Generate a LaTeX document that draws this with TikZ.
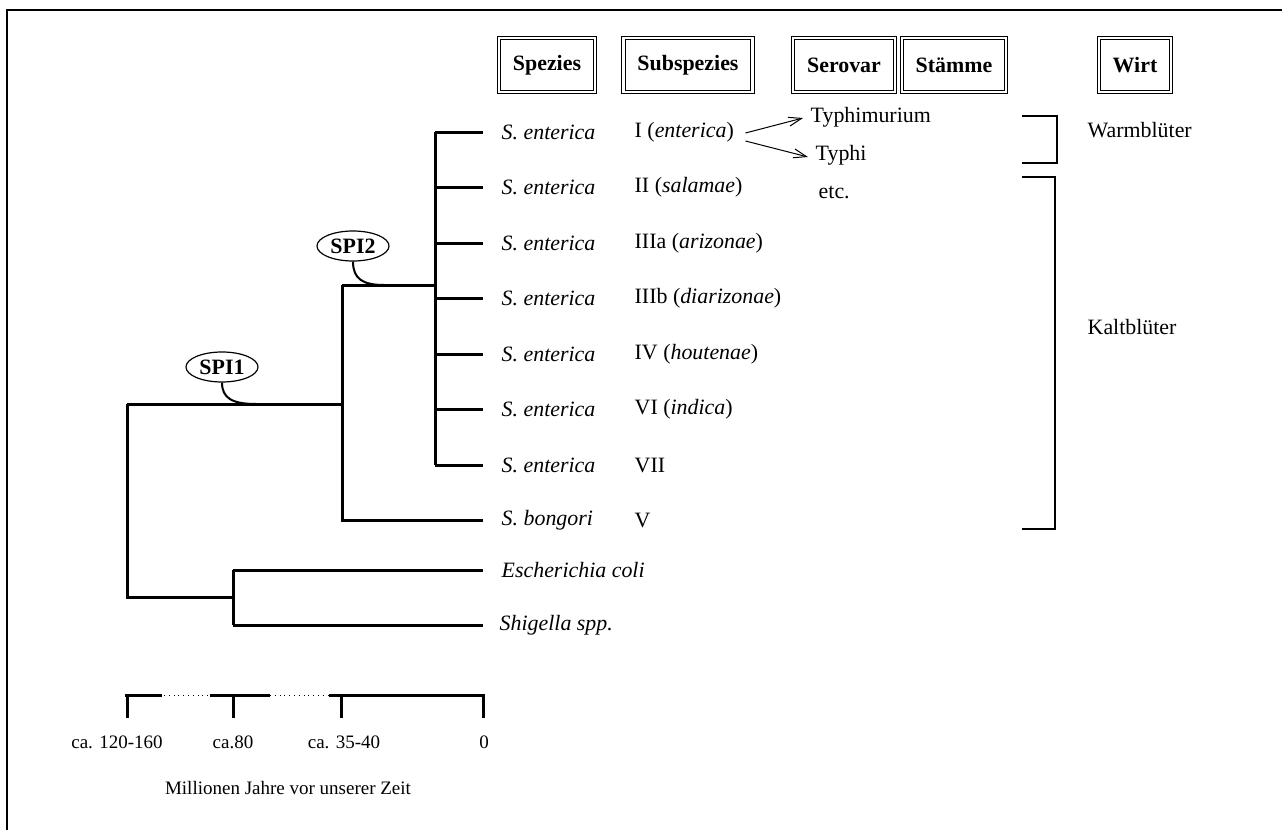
\documentclass[tikz,border=0pt,11pt]{standalone}
\usepackage{fontspec}
\setmainfont{Liberation Serif}
\usetikzlibrary{arrows.meta,positioning,shapes.geometric}
\begin{document}
\begin{tikzpicture}[x=0.5pt,y=-0.5pt,
  ast/.style={line width=1.5pt},
  kopf/.style={draw,double,double distance=1.1pt,line width=0.5pt,font=\bfseries,minimum height=27pt,inner xsep=7pt},
  art/.style={anchor=west,font=\itshape},
  unter/.style={anchor=west},
  spi/.style={draw,ellipse,line width=0.6pt,font=\bfseries,minimum width=36pt,minimum height=15pt,inner sep=0pt},
  pfeil/.style={line width=0.5pt,-{Straight Barb[length=6.5pt,width=4.5pt]}},
  klammer/.style={line width=1.2pt},
  skala/.style={font=\fontsize{9.5}{11}\selectfont}]
\useasboundingbox (0,0) rectangle (1282,830);
% Rahmen
\draw[line width=1pt] (7,830) -- (7,10) -- (1282,10);

% Kopfzeile
\node[kopf] (spezies) at (547,65) {Spezies};
\node[kopf] (subspezies) at (688,65) {Subspezies};
\node[kopf] (serovar) at (844,65) {Serovar};
\node[kopf] (staemme) at (954,65) {Stämme};
\node[kopf] (wirt) at (1135,65) {Wirt};

% Verzweigungspunkte
\coordinate (w) at (127,404);
\coordinate (wu) at (127,597);
\coordinate (a) at (342,404);
\coordinate (at) at (342,285);
\coordinate (ab) at (342,520);
\coordinate (b) at (435,285);
\coordinate (bt) at (435,132);
\coordinate (bb) at (435,465);
\coordinate (e) at (233,597);
\coordinate (et) at (233,570);
\coordinate (eb) at (233,625);

% S. enterica
\foreach \y/\sub [count=\i] in {132/I (\textit{enterica}), 187/II (\textit{salamae}),
  243/IIIa (\textit{arizonae}), 298/IIIb (\textit{diarizonae}), 354/IV (\textit{houtenae}),
  409/VI (\textit{indica}), 465/VII}{
  \coordinate (s\i) at (483,\y);
  \draw[ast] (b |- s\i) -- (s\i);
  \node[art] (sp\i) at (494,\y) {S. enterica};
  \node[unter] (ss\i) at (627,\y) {\sub};
}
\coordinate (s8) at (483,520);
\node[art] (sp8) at (494,520) {S. bongori};
\node[unter] (ss8) at (627,520) {V};
\coordinate (s9) at (483,570);
\node[art] (coli) at (494,570) {Escherichia coli};
\coordinate (s10) at (483,625);
\node[art] (shig) at (492,625) {Shigella spp.};

% Stammbaum
\draw[ast] (bt) -- (bb);
\draw[ast] (at) -- (b);
\draw[ast] (at) -- (ab) -- (s8);
\draw[ast] (w) -- (a);
\draw[ast] (w) -- (wu) -- (e);
\draw[ast] (et) -- (eb);
\draw[ast] (et) -- (s9);
\draw[ast] (eb) -- (s10);

% Pathogenitaetsinseln
\node[spi] (spi1) at (222,367) {SPI1};
\node[spi] (spi2) at (353,246) {SPI2};
\draw[line width=1pt] (spi1.south) .. controls (222,398) and (232,404) .. (256,404);
\draw[line width=1pt] (spi2.south) .. controls (353,279) and (363,285) .. (384,285);

% Serovare
\node[unter] (typm) at (803,117) {Typhimurium};
\node[unter] (typ) at (808,155) {Typhi};
\node[unter] (etc) at (811,192) {etc.};
\draw[pfeil] ([shift={(4,1)}]ss1.east) -- ([shift={(0,1)}]typm.west);
\draw[pfeil] ([shift={(4,9)}]ss1.east) -- ([shift={(0,2)}]typ.west);

% Wirt
\draw[klammer] (1022,116) -- (1057,116) -- (1057,163) -- (1022,163);
\draw[klammer] (1022,177) -- (1055,177) -- (1055,529) -- (1022,529);
\node[unter] (warm) at (1080,130) {Warmblüter};
\node[unter] (kalt) at (1080,327) {Kaltblüter};

% Zeitskala
\coordinate (t1) at (127,695);
\coordinate (t2) at (233,695);
\coordinate (t3) at (341,695);
\coordinate (t4) at (483,695);
\foreach \t in {t1,t2,t3,t4}
  \draw[ast] (\t) -- ++(0,23);
\draw[ast] ([xshift=-1]t1) -- ++(37,0);
\draw[ast] (210,695) -- (270,695);
\draw[ast] (329,695) -- ([xshift=1]t4);
\draw[line width=0.4pt,dotted] (164,695) -- (210,695);
\draw[line width=0.4pt,dotted] (270,695) -- (329,695);
\node[skala] (l1) at (117,742) {ca. 120-160};
\node[skala] (l2) at (233,742) {ca.80};
\node[skala] (l3) at (344,742) {ca. 35-40};
\node[skala] (l4) at (484,742) {0};
\node[skala] (achse) at (288,788) {Millionen Jahre vor unserer Zeit};
\end{tikzpicture}
\end{document}
